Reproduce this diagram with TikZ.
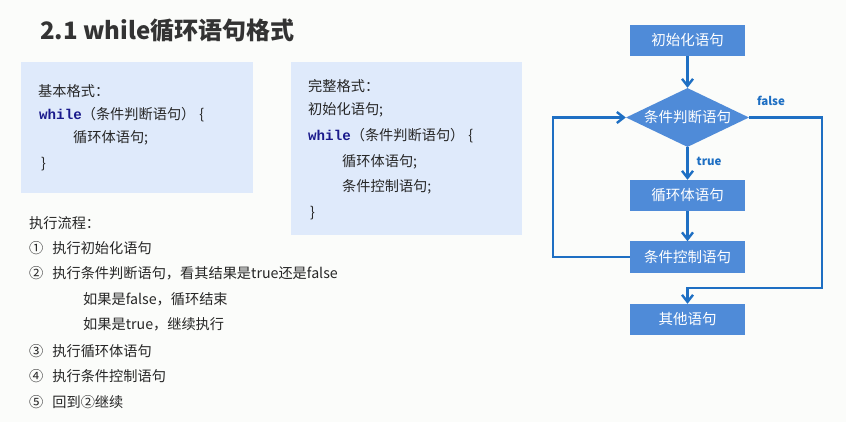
\documentclass[tikz,border=0pt]{standalone}
\usepackage{fontspec}
\setmainfont{Noto Sans CJK SC}
\newfontfamily\codefont{Liberation Mono}
\usetikzlibrary{arrows.meta,shapes.geometric,positioning}
\definecolor{pagebg}{HTML}{FBFCFA}
\definecolor{panelblue}{HTML}{DFEAFB}
\definecolor{stepblue}{HTML}{4F8BD8}
\definecolor{lineblue}{HTML}{1E6FC3}
\definecolor{keyblue}{HTML}{1A1A8C}
\definecolor{titlegray}{HTML}{333333}
\newcommand{\kw}[1]{{\codefont\bfseries\color{keyblue}#1}}

\begin{document}
\begin{tikzpicture}[x=1pt,y=-1pt]
        \tikzstyle{txt}=[anchor=west,inner sep=0pt,text=black!85,
        font=\fontsize{14.2}{16}\selectfont]
        \tikzstyle{stepbox}=[rectangle,fill=stepblue,text=white,inner sep=0pt,
        minimum width=115pt,minimum height=31pt,font=\fontsize{14.5}{16}\selectfont]
        \tikzstyle{decision}=[diamond,fill=stepblue,text=white,inner sep=0pt,aspect=2.08,
        minimum width=123pt,minimum height=59pt,font=\fontsize{14.5}{16}\selectfont]
        \tikzstyle{flow}=[line width=2.4pt,lineblue,-{Straight Barb[length=7pt,width=11pt,line width=2.4pt]}]
        \tikzstyle{branch}=[text=lineblue,font=\fontsize{11.5}{13}\selectfont\bfseries,inner sep=0pt]
        \fill[pagebg] (0,0) rectangle (846,422);
        \useasboundingbox (0,0) rectangle (846,422);
        % title
        \node at (40,31) [anchor=west,inner sep=0pt,text=titlegray,
        font=\fontsize{24}{28}\selectfont\bfseries] (title) {2.1 while循环语句格式};
        % panels
        \fill[panelblue] (21,62) rectangle (253,193);
        \fill[panelblue] (291,62) rectangle (522,235);
        \node at (38,91) [txt] (basic1) {基本格式：};
        \node at (39,115) [txt] (basic2) {\kw{while}（条件判断语句）\hspace{4pt}\{};
        \node at (73,138) [txt] (basic3) {循环体语句;};
        \node at (41,164) [txt] (basic4) {\}};
        \node at (308,86) [txt] (full1) {完整格式：};
        \node at (308,110) [txt] (full2) {初始化语句;};
        \node at (308,136) [txt] (full3) {\kw{while}（条件判断语句）\hspace{4pt}\{};
        \node at (342,162) [txt] (full4) {循环体语句;};
        \node at (342,187) [txt] (full5) {条件控制语句;};
        \node at (310,213) [txt] (full6) {\}};
        % steps
        \node at (29,223) [txt] (run0) {执行流程：};
        \node at (29,248) [txt] (run1) {①\hspace{9pt}执行初始化语句};
        \node at (29,273) [txt] (run2) {②\hspace{9pt}执行条件判断语句，看其结果是true还是false};
        \node at (83,299) [txt] (run2a) {如果是false，循环结束};
        \node at (83,324) [txt] (run2b) {如果是true，继续执行};
        \node at (29,351) [txt] (run3) {③\hspace{9pt}执行循环体语句};
        \node at (29,376) [txt] (run4) {④\hspace{9pt}执行条件控制语句};
        \node at (29,402) [txt] (run5) {⑤\hspace{9pt}回到②继续};
        % flow chart
        \node at (687.5,40.5) [stepbox] (init) {初始化语句};
        \node at (687.5,117.5) [decision] (cond) {条件判断语句};
        \node at (687.5,195.5) [stepbox] (body) {循环体语句};
        \node at (687.5,257) [stepbox] (ctrl) {条件控制语句};
        \node at (687.5,319.5) [stepbox] (other) {其他语句};
        \coordinate (loopl) at (553,257);
        \coordinate (loopr) at (822,288);
        \draw[flow] (init) -- (cond);
        \draw[flow] (cond) -- node[branch,anchor=west,xshift=8pt,pos=0.45] (truelbl) {true} (body);
        \draw[flow] (body) -- (ctrl);
        \draw[flow] (ctrl.west) -- (loopl) |- (cond.west);
        \draw[flow] (cond.east) -| (loopr) -| (other.north);
        \node at (771,101) [branch] (falselbl) {false};
\end{tikzpicture}
\end{document}
